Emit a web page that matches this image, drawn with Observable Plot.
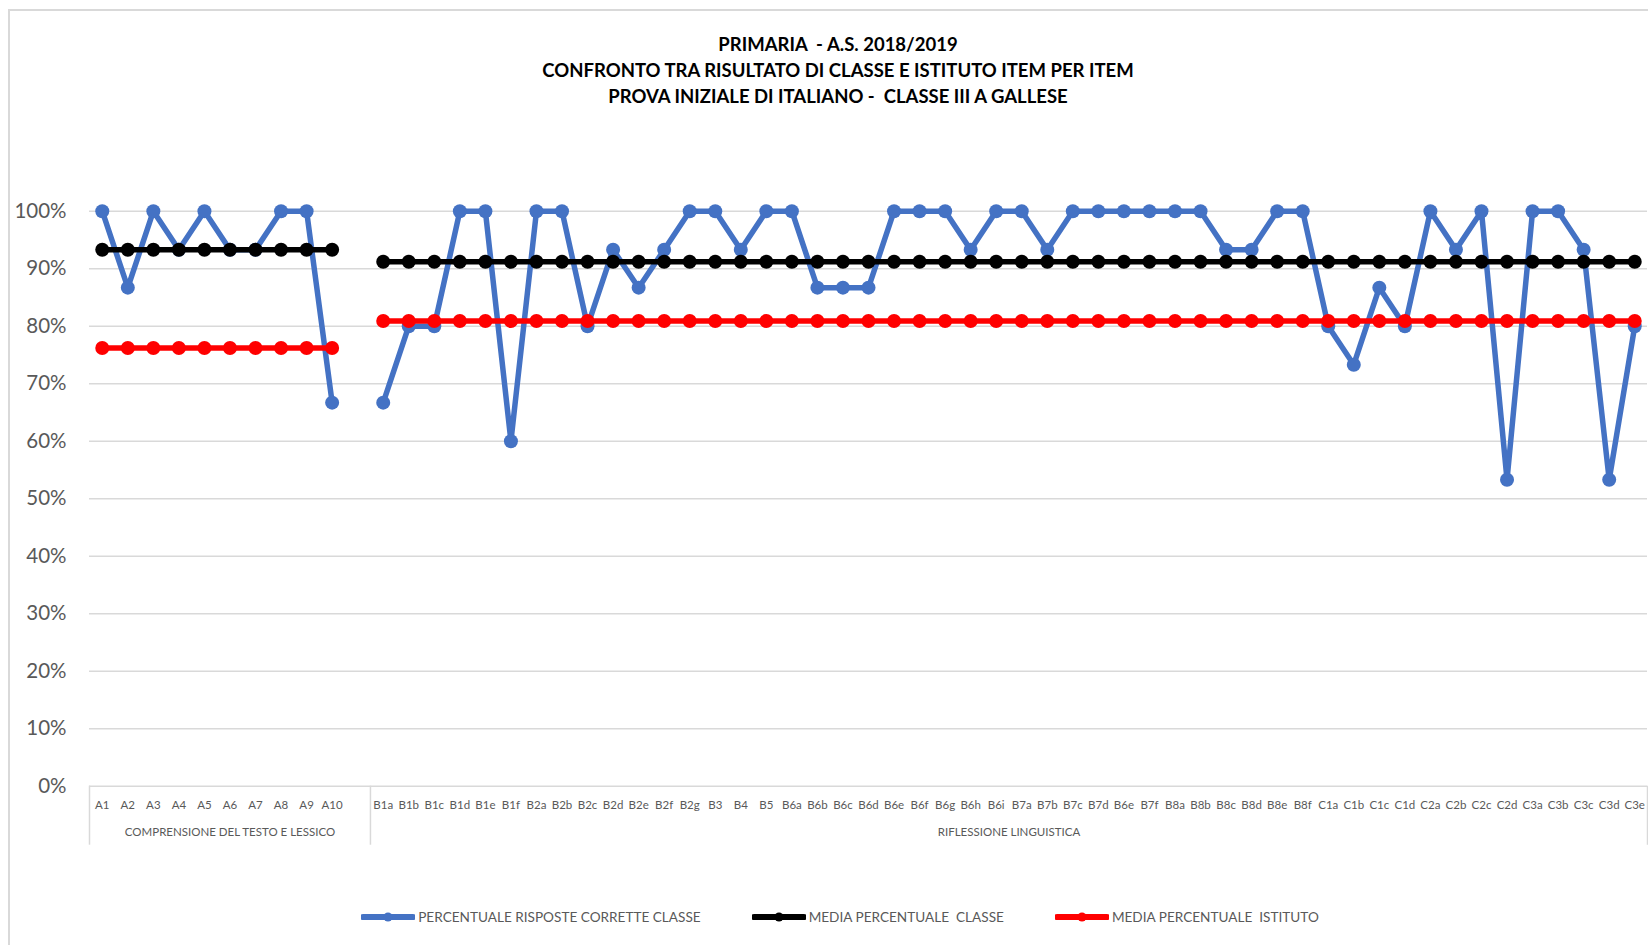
<!DOCTYPE html>
<html>
<head>
<meta charset="utf-8">
<script src="https://cdn.jsdelivr.net/npm/d3@7"></script>
<script src="https://cdn.jsdelivr.net/npm/@observablehq/plot@0.6"></script>
<style>
  body { margin: 0; background: #fff; }
  #chart { position: relative; width: 1648px; height: 945px; overflow: hidden; font-family: Lato, "Open Sans", sans-serif; background: #fff; }
  #frame { position: absolute; left: 8px; top: 9px; width: 1700px; height: 1000px; border-left: 2px solid #d9d9d9; border-top: 2px solid #d9d9d9; box-sizing: border-box; z-index: 5; pointer-events: none; }
  #title { position: absolute; top: 31px; left: 0; width: 1676px; text-align: center; font-weight: bold; font-size: 18.5px; line-height: 26px; color: #000; }
  #plot { position: absolute; left: 0; top: 110px; }
  #legend { position: absolute; top: 906px; left: 0; width: 1680px; display: flex; justify-content: center; gap: 51px; font-size: 13.6px; color: #595959; }
  .item { display: flex; align-items: center; gap: 3px; height: 22px; }
</style>
</head>
<body>
<div id="chart">
  <div id="frame"></div>
  <div id="title"></div>
  <div id="plot"></div>
  <div id="legend"></div>
</div>
<script>
// ---- Data ----
const titleLines = [
  "PRIMARIA  - A.S. 2018/2019",
  "CONFRONTO TRA RISULTATO DI CLASSE E ISTITUTO ITEM PER ITEM",
  "PROVA INIZIALE DI ITALIANO -  CLASSE III A GALLESE"
];

const sectionNames = ["COMPRENSIONE DEL TESTO E LESSICO", "RIFLESSIONE LINGUISTICA"];

const labelsA = ["A1","A2","A3","A4","A5","A6","A7","A8","A9","A10"];
const valuesA = [100, 86.7, 100, 93.3, 100, 93.3, 93.3, 100, 100, 66.7];

const labelsB = ["B1a","B1b","B1c","B1d","B1e","B1f","B2a","B2b","B2c","B2d","B2e","B2f","B2g",
  "B3","B4","B5","B6a","B6b","B6c","B6d","B6e","B6f","B6g","B6h","B6i","B7a","B7b","B7c","B7d",
  "B6e","B7f","B8a","B8b","B8c","B8d","B8e","B8f","C1a","C1b","C1c","C1d","C2a","C2b","C2c","C2d",
  "C3a","C3b","C3c","C3d","C3e"];
const valuesB = [66.7, 80, 80, 100, 100, 60, 100, 100, 80, 93.3, 86.7, 93.3, 100,
  100, 93.3, 100, 100, 86.7, 86.7, 86.7, 100, 100, 100, 93.3, 100, 100, 93.3, 100, 100,
  100, 100, 100, 100, 93.3, 93.3, 100, 100, 80, 73.3, 86.7, 80, 100, 93.3, 100, 53.3,
  100, 100, 93.3, 53.3, 80];

const mediaClasse = [93.3, 91.2];     // per section
const mediaIstituto = [76.2, 80.9];   // per section

const yTicks = [0,10,20,30,40,50,60,70,80,90,100];

const seriesNames = ["PERCENTUALE RISPOSTE CORRETTE CLASSE", "MEDIA PERCENTUALE  CLASSE", "MEDIA PERCENTUALE  ISTITUTO"];
const seriesColors = ["#4472C4", "#000000", "#FF0000"];

// ---- Build table ----
// section A items, then one empty category, then section B/C items
const sections = [
  {labels: labelsA, values: valuesA, slots: labelsA.length + 1},
  {labels: labelsB, values: valuesB, slots: labelsB.length}
];
const rows = [];
const tickLabels = [];
const bounds = [-0.5];
const centers = [];
let idx = 0;
sections.forEach((s, si) => {
  const start = idx;
  s.labels.forEach((lab, k) => {
    rows.push({i: idx, label: lab, section: si, pct: s.values[k], mc: mediaClasse[si], mi: mediaIstituto[si]});
    tickLabels[idx] = lab;
    idx++;
  });
  while (idx < start + s.slots) { tickLabels[idx] = ""; idx++; }
  bounds.push(idx - 0.5);
  centers.push({x: (start - 0.5 + idx - 0.5) / 2, name: sectionNames[si]});
});
const n = idx;

// ---- Layout ----
const W = 1648, H = 770, mT = 100.7, mB = 94.3, mL = 89, mR = 1;
const plotH = H - mT - mB;
const sepDepth = 59 / plotH * 100; // separator extends ~59px below the axis

const lineW = 5.5, dotR = 7;

const chart = Plot.plot({
  width: W, height: H,
  marginTop: mT, marginBottom: mB, marginLeft: mL, marginRight: mR,
  style: {fontFamily: "Lato, 'Open Sans', sans-serif", fontSize: "11.5px", background: "transparent", overflow: "visible"},
  x: {type: "linear", domain: [-0.5, n - 0.5], axis: null},
  y: {domain: [0, 100], axis: null},
  marks: [
    Plot.ruleY(yTicks, {stroke: "#d9d9d9", strokeWidth: 1.5}),
    Plot.ruleX(bounds, {x: d => d, y1: 0, y2: -sepDepth, stroke: "#d9d9d9", strokeWidth: 1.5}),
    Plot.axisY({ticks: yTicks, tickFormat: d => d + "%", tickSize: 0, tickPadding: 23, fontSize: 20.5, color: "#595959"}),
    Plot.axisX({ticks: d3.range(n).filter(i => tickLabels[i] !== ""), tickFormat: i => tickLabels[i], tickSize: 0, tickPadding: 14.5, fontSize: 11.5, color: "#595959"}),
    Plot.text(centers, {x: "x", y: 0, text: "name", dy: 46, fontSize: 11.5, fill: "#595959"}),
    // series 1: class percentages
    Plot.line(rows, {x: "i", y: "pct", z: "section", stroke: seriesColors[0], strokeWidth: lineW, strokeLinejoin: "round"}),
    Plot.dot(rows, {x: "i", y: "pct", r: dotR, fill: seriesColors[0], stroke: "none"}),
    // series 2: class mean
    Plot.line(rows, {x: "i", y: "mc", z: "section", stroke: seriesColors[1], strokeWidth: lineW}),
    Plot.dot(rows, {x: "i", y: "mc", r: dotR, fill: seriesColors[1], stroke: "none"}),
    // series 3: institute mean
    Plot.line(rows, {x: "i", y: "mi", z: "section", stroke: seriesColors[2], strokeWidth: lineW}),
    Plot.dot(rows, {x: "i", y: "mi", r: dotR, fill: seriesColors[2], stroke: "none"})
  ]
});
document.getElementById("plot").appendChild(chart);

// ---- Title ----
const t = document.getElementById("title");
titleLines.forEach(l => { const d = document.createElement("div"); d.textContent = l; d.style.whiteSpace = "pre"; t.appendChild(d); });

// ---- Legend ----
const lg = document.getElementById("legend");
seriesNames.forEach((name, k) => {
  const it = document.createElement("div");
  it.className = "item";
  it.innerHTML = `<svg width="54" height="14"><line x1="2" x2="52" y1="7" y2="7" stroke="${seriesColors[k]}" stroke-width="6" stroke-linecap="round"/><circle cx="27" cy="7" r="4.5" fill="${seriesColors[k]}"/></svg>`;
  const s = document.createElement("span");
  s.textContent = name;
  s.style.whiteSpace = "pre";
  it.appendChild(s);
  lg.appendChild(it);
});
</script>
</body>
</html>
